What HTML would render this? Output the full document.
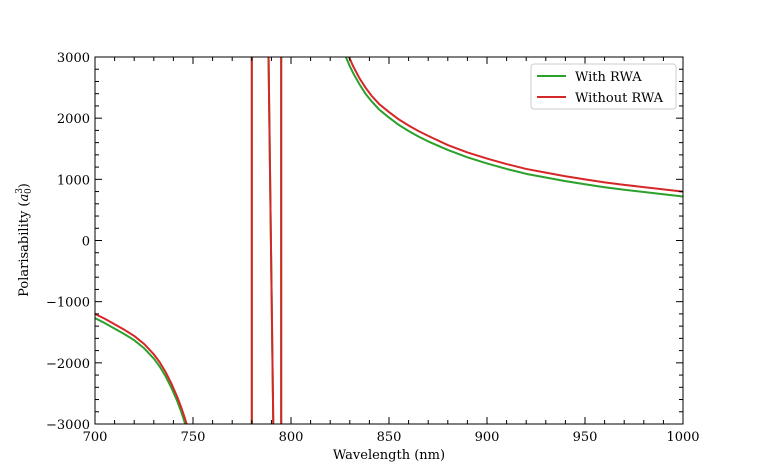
<!DOCTYPE html>
<html><head><meta charset="utf-8"><style>
body{margin:0;background:#fff;}
svg{display:block;font-family:"DejaVu Serif","Liberation Serif",serif;}
</style></head><body>
<svg id="c" width="759" height="476"></svg>
<script>
const wlGreen=[700,705,710,715,720,725,730,733,736,739,742,744,746,747.5,null,780,780,null,788.5,791,null,795,795,null,826,828,830,832,835,838,841,845,850,855,860,865,870,880,890,900,910,920,930,940,950,960,970,985,1000];
const valGreen=[-1270,-1350,-1440,-1530,-1630,-1760,-1930,-2060,-2220,-2410,-2630,-2800,-3000,-3150,null,3100,-3100,null,3100,-3100,null,3100,-3100,null,3200,3000,2850,2720,2550,2400,2280,2140,2010,1890,1790,1700,1620,1480,1360,1260,1170,1090,1030,970,920,870,830,775,720];
const valRed=[-1200,-1280,-1370,-1460,-1560,-1690,-1860,-1990,-2150,-2340,-2560,-2730,-2920,-3080,null,3100,-3100,null,3100,-3100,null,3100,-3100,null,3350,3130,2970,2830,2650,2500,2370,2230,2100,1980,1880,1790,1710,1560,1440,1340,1250,1170,1110,1050,1000,950,910,855,800];
const xTicks=[700,750,800,850,900,950,1000];
const yTicks=[-3000,-2000,-1000,0,1000,2000,3000];
const L=95,R=683,T=57,B=424;
const xs=v=>L+(v-700)/300*(R-L), ys=v=>B-(v+3000)/6000*(B-T);
const NS="http://www.w3.org/2000/svg", svg=document.getElementById('c');
function el(t,a,p){const e=document.createElementNS(NS,t);for(const k in a)e.setAttribute(k,a[k]);(p||svg).appendChild(e);return e;}
const defs=el('defs',{});const cp=el('clipPath',{id:'clip'},defs);el('rect',{x:L,y:T,width:R-L,height:B-T},cp);
function series(wl,val,color,name){let d='',pen=false;for(let i=0;i<wl.length;i++){if(wl[i]===null){pen=false;continue;}d+=(pen?'L':'M')+xs(wl[i]).toFixed(2)+' '+ys(val[i]).toFixed(2);pen=true;}
const p=el('path',{d:d,fill:'none',stroke:color,'stroke-width':2,'stroke-linejoin':'round','clip-path':'url(#clip)'});

}
series(wlGreen,valGreen,'#2ca02c','series-with-rwa');
series(wlGreen,valRed,'#d62728','series-without-rwa');
const fr=el('rect',{x:L,y:T,width:R-L,height:B-T,fill:'none',stroke:'#000','stroke-width':1});


for(const v of xTicks){const x=xs(v);el('line',{x1:x,x2:x,y1:B,y2:B-7,stroke:'#000'});el('line',{x1:x,x2:x,y1:T,y2:T+7,stroke:'#000'});
const t=el('text',{x:x,y:B+17,'text-anchor':'middle','font-size':13});t.textContent=v;

}
for(let v=710;v<1000;v+=10){if(v%50===0)continue;const x=xs(v);el('line',{x1:x,x2:x,y1:B,y2:B-4,stroke:'#000'});el('line',{x1:x,x2:x,y1:T,y2:T+4,stroke:'#000'});}
for(const v of yTicks){const y=ys(v);el('line',{x1:L,x2:L+7,y1:y,y2:y,stroke:'#000'});el('line',{x1:R,x2:R-7,y1:y,y2:y,stroke:'#000'});
const t=el('text',{x:L-5,y:y+5,'text-anchor':'end','font-size':13});t.textContent=v<0?'\u2212'+(-v):v;

}
for(let v=-2800;v<3000;v+=200){if(v%1000===0)continue;const y=ys(v);el('line',{x1:L,x2:L+4,y1:y,y2:y,stroke:'#000'});el('line',{x1:R,x2:R-4,y1:y,y2:y,stroke:'#000'});}
const xt=el('text',{x:(L+R)/2,y:459,'text-anchor':'middle','font-size':13});xt.textContent='Wavelength (nm)';


const yt=el('text',{transform:'translate(28,240) rotate(-90)','text-anchor':'middle','font-size':13});
yt.innerHTML='Polarisability (<tspan font-style="italic">a</tspan><tspan font-size="9" dy="-6">3</tspan><tspan font-size="9" dy="9" dx="-6">0</tspan><tspan dy="-3">)</tspan>';


const lg=el('g',{});


el('rect',{x:531,y:64,width:145,height:45,rx:3,fill:'#fff',stroke:'#ccc'},lg);
el('line',{x1:537,x2:566,y1:76,y2:76,stroke:'#2ca02c','stroke-width':2},lg);
el('line',{x1:537,x2:566,y1:97,y2:97,stroke:'#d62728','stroke-width':2},lg);
const l1=el('text',{x:575,y:81,'font-size':13},lg);l1.textContent='With RWA';


const l2=el('text',{x:575,y:102,'font-size':13},lg);l2.textContent='Without RWA';


</script>
</body></html>
